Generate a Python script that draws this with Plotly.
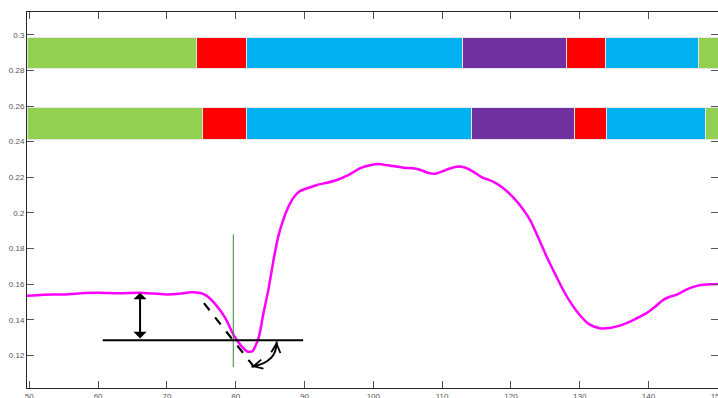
import plotly.graph_objects as go

# ---- data ----
curve_x = [49.6, 52, 55, 58, 60, 63, 66, 68, 70, 72, 73.5, 75, 75.8, 77, 78.5, 79.7, 80.8,
           81.7, 82.4, 82.8, 83.4, 84.0, 84.8, 85.5, 86.2, 86.9, 87.6, 88.2, 88.8, 89.4,
           90.5, 91.8, 93.3, 94.7, 96.5, 98.1, 99.5, 101.0, 102.5, 104.4, 105.8, 107.0,
           108.0, 109.0, 110.0, 111.0, 112.1, 113.3, 114.5, 115.8, 117.4, 118.9, 120.4,
           121.6, 122.8, 124.0, 125.2, 126.4, 127.6, 128.8, 130.0, 131.4, 132.9, 134.3,
           135.8, 137.7, 139.7, 141.0, 142.1, 143.1, 144.1, 145.0, 146.0, 147.0, 148.0,
           149.0, 150.1]
curve_y = [0.1535, 0.1542, 0.1543, 0.1551, 0.1553, 0.1550, 0.1552, 0.1548, 0.1543, 0.1548,
           0.1556, 0.1550, 0.1535, 0.1490, 0.1410, 0.1315, 0.1255, 0.1223, 0.1223, 0.1248,
           0.1310, 0.1430, 0.1580, 0.1737, 0.1870, 0.1960, 0.2030, 0.2073, 0.2105, 0.2124,
           0.2140, 0.2157, 0.2170, 0.2185, 0.2215, 0.2251, 0.2268, 0.2274, 0.2265, 0.2254,
           0.2251, 0.2240, 0.2224, 0.2220, 0.2233, 0.2248, 0.2260, 0.2255, 0.2232, 0.2200,
           0.2176, 0.2139, 0.2085, 0.2030, 0.1960, 0.1860, 0.1755, 0.1660, 0.1568, 0.1490,
           0.1428, 0.1375, 0.1354, 0.1355, 0.1368, 0.1398, 0.1438, 0.1475, 0.1512, 0.1530,
           0.1542, 0.1560, 0.1578, 0.1591, 0.1597, 0.1600, 0.1602]

seg_colors = ["#92D050", "#FF0000", "#00B0F0", "#7030A0", "#FF0000", "#00B0F0", "#92D050"]
bar1_edges = [49.75, 74.42, 81.6, 113.08, 128.2, 133.82, 147.3, 151.0]
bar2_edges = [49.75, 75.29, 81.6, 114.39, 129.27, 133.97, 148.31, 151.0]
bar1_span = [0.281, 0.298]
bar2_span = [0.2411, 0.2587]

xticks = [50, 60, 70, 80, 90, 100, 110, 120, 130, 140, 150]
yticks = [0.12, 0.14, 0.16, 0.18, 0.2, 0.22, 0.24, 0.26, 0.28, 0.3]

# annotation geometry (data units)
hline_x = [60.67, 89.8]
hline_y = [0.1286, 0.1286]
vline_x = [79.65, 79.65]
vline_y = [0.1135, 0.188]
dash_x = [75.39, 83.39]
dash_y = [0.1494, 0.1101]
varrow_x = 66.1
varrow_y = [0.1553, 0.1288]
arc_x = [85.96, 85.9, 85.5, 84.6, 83.4, 82.3]
arc_y = [0.1279, 0.1250, 0.1205, 0.1170, 0.1148, 0.1138]

fig = go.Figure()

for edges, span in [(bar1_edges, bar1_span), (bar2_edges, bar2_span)]:
    for i in range(len(edges) - 1):
        fig.add_trace(go.Bar(
            orientation="h",
            base=[edges[i]],
            x=[edges[i + 1] - edges[i]],
            y=[(span[0] + span[1]) / 2],
            width=[span[1] - span[0]],
            marker=dict(color=seg_colors[i], line=dict(color="#e6e6e6", width=1)),
            showlegend=False, hoverinfo="skip"))

fig.add_trace(go.Scatter(x=curve_x, y=curve_y, mode="lines",
                         line=dict(color="#FF00FF", width=2.5, shape="spline", smoothing=0.6),
                         showlegend=False))
fig.add_trace(go.Scatter(x=vline_x, y=vline_y, mode="lines",
                         line=dict(color="#2e8b3a", width=1), showlegend=False))
fig.add_trace(go.Scatter(x=hline_x, y=hline_y, mode="lines",
                         line=dict(color="black", width=2.2), showlegend=False))
fig.add_trace(go.Scatter(x=dash_x, y=dash_y, mode="lines",
                         line=dict(color="black", width=2.2, dash="dash"), showlegend=False))
fig.add_trace(go.Scatter(x=arc_x, y=arc_y, mode="lines",
                         line=dict(color="black", width=2, shape="spline"), showlegend=False))

annos = [
    dict(x=varrow_x, y=varrow_y[0], ax=varrow_x, ay=varrow_y[1], xref="x", yref="y",
         axref="x", ayref="y", showarrow=True, arrowhead=1, arrowside="end+start",
         arrowsize=1.1, arrowwidth=2, arrowcolor="black", text=""),
    dict(x=arc_x[0], y=arc_y[0], ax=arc_x[1], ay=arc_y[1], xref="x", yref="y",
         axref="x", ayref="y", showarrow=True, arrowhead=5, arrowsize=0.9, arrowwidth=2,
         arrowcolor="black", text="", standoff=0),
    dict(x=arc_x[-1], y=arc_y[-1], ax=arc_x[-2], ay=arc_y[-2], xref="x", yref="y",
         axref="x", ayref="y", showarrow=True, arrowhead=5, arrowsize=0.9, arrowwidth=2,
         arrowcolor="black", text="", standoff=0),
]

axis_common = dict(showline=True, linecolor="#262626", linewidth=1, mirror="ticks",
                   ticks="inside", ticklen=7, tickwidth=1.2, tickcolor="#555555",
                   showgrid=False, zeroline=False, automargin=False,
                   ticklabeloverflow="allow",
                   tickfont=dict(family="Liberation Sans, Arial", size=8, color="#555555"))

fig.update_layout(
    width=718, height=398,
    margin=dict(l=27, r=0, t=12, b=10),
    plot_bgcolor="white", paper_bgcolor="white",
    barmode="overlay", bargap=0,
    annotations=annos,
    xaxis=dict(range=[49.666, 150.1], tickvals=xticks,
               ticktext=[str(v) for v in xticks], **axis_common),
    yaxis=dict(range=[0.10183, 0.31273], tickvals=yticks,
               ticktext=[f"{v:g}" for v in yticks], **axis_common),
)

fig.write_html("out.html", config={"displayModeBar": False},
               post_script="document.body.style.margin='0';document.body.style.overflow='hidden';")
